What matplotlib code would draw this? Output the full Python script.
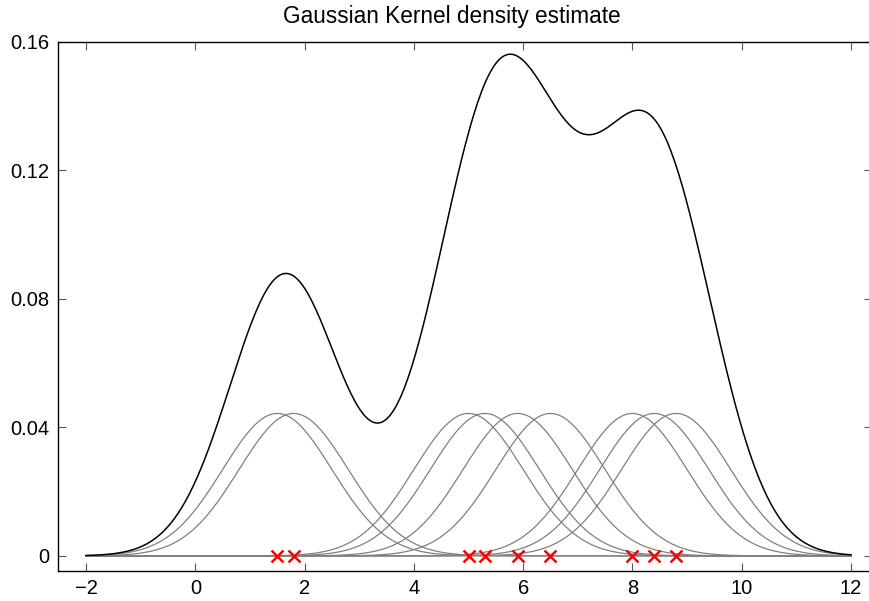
import numpy as np
import matplotlib
matplotlib.use("Agg")
import matplotlib.pyplot as plt

plt.rcParams['font.family'] = ['Liberation Sans', 'DejaVu Sans']

# sample points (red crosses) and kernel bandwidth
samples = [1.5, 1.8, 5.0, 5.3, 5.9, 6.5, 8.0, 8.4, 8.8]
bandwidth = 1.0
x_range = (-2, 12)
xticks = [-2, 0, 2, 4, 6, 8, 10, 12]
yticks = [0, 0.04, 0.08, 0.12, 0.16]
yticklabels = ['0', '0.04', '0.08', '0.12', '0.16']


def kernel(x, center, h, n):
    return np.exp(-0.5 * ((x - center) / h) ** 2) / (n * h * np.sqrt(2 * np.pi))


x = np.linspace(x_range[0], x_range[1], 400)
n = len(samples)
kernels = [kernel(x, s, bandwidth, n) for s in samples]
density = np.sum(kernels, axis=0)

fig = plt.figure(figsize=(8.7, 6.01), dpi=100)
# right edge of the axes sits at the image border, as in the reference
ax = fig.add_axes([0.0667, 0.0499, 0.9356, 0.8807])

for k in kernels:
    ax.plot(x, k, color='#808080', lw=0.9)
ax.plot(x, density, color='black', lw=1.1)
ax.plot(samples, np.zeros(n), 'x', color='red', ms=8, mew=1.8, clip_on=False)

ax.set_xlim(-2.513, 12.385)
ax.set_ylim(-0.0047, 0.16)
ax.set_xticks(xticks)
ax.set_xticklabels(['\u22122', '0', '2', '4', '6', '8', '10', '12'])
ax.set_yticks(yticks)
ax.set_yticklabels(yticklabels)
ax.tick_params(direction='in', length=6, width=0.8, color='#555555',
               labelsize=14.5, top=True, right=True, pad=6)
for sp in ax.spines.values():
    sp.set_linewidth(1.0)
ax.spines['right'].set_visible(False)

fig.text(0.5195, 0.972, 'Gaussian Kernel density estimate', fontsize=16.3,
         ha='center', va='center')

fig.savefig('out.png', dpi=100)
